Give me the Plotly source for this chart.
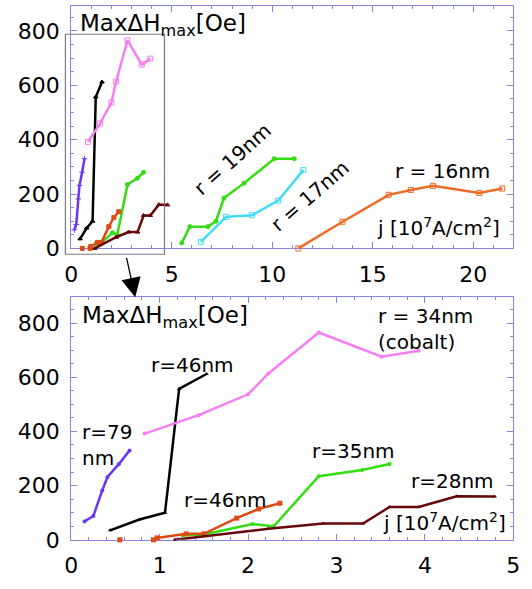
import plotly.graph_objects as go

# ---- data: current density j [1e7 A/cm^2] and Max dH_max [Oe] ----
j79 = [0.15, 0.25, 0.35, 0.41, 0.54, 0.66]
h79 = [68, 88, 182, 232, 280, 330]
j46a = [0.44, 0.77, 1.06, 1.22, 1.53]
h46a = [35, 75, 100, 557, 612]
j34 = [0.83, 1.44, 2.0, 2.23, 2.80, 3.51, 3.93]
h34 = [392, 460, 537, 614, 765, 676, 698]
j35 = [1.26, 1.50, 2.05, 2.29, 2.80, 3.29, 3.60]
h35 = [17, 20, 58, 50, 235, 258, 280]
j46b = [0.55, None, 0.93, 0.97, 1.30, 1.50, 1.87, 2.12, 2.36]
h46b = [0, None, 0, 7, 22, 22, 80, 114, 135]
j28 = [1.17, 2.23, 2.85, 3.30, 3.60, 3.93, 4.36, 4.79]
h28 = [0, 41, 60, 60, 121, 121, 161, 160]
j19 = [5.5, 5.9, 6.8, 7.2, 7.6, 8.6, 10.1, 11.1]
h19 = [20, 80, 80, 100, 185, 240, 330, 330]
j17 = [6.45, 7.7, 9.0, 10.3, 11.55]
h17 = [24, 116, 122, 176, 288]
j16 = [11.3, 13.5, 15.8, 16.9, 18.0, 20.3, 21.45]
h16 = [0, 98, 197, 215, 230, 204, 220]

W, H = 532, 589
FONT = "DejaVu Sans"
AX = "#8585e6"

C79, C46a, C34, C35, C46b, C28 = "#6a35f5", "#000000", "#f57ef2", "#33dd11", "#dd4a14", "#660808"
C19, C17, C16 = "#33dd11", "#3ddcf7", "#ee6a25"

small = [
    (j79, h79, C79, "cross-thin-open"),
    (j46a, h46a, C46a, "triangle-up"),
    (j34, h34, C34, "square-open"),
    (j35, h35, C35, "circle"),
    (j46b, h46b, C46b, "square"),
    (j28, h28, C28, "triangle-up"),
]
large = [
    (j19, h19, C19, "circle"),
    (j17, h17, C17, "square-open"),
    (j16, h16, C16, "square-open"),
]

fig = go.Figure()
for xs, ys, c, sym in small + large:
    fig.add_trace(go.Scatter(x=xs, y=ys, mode="lines+markers", xaxis="x", yaxis="y",
                             line=dict(color=c, width=2.5),
                             marker=dict(color=c, size=4 if sym != "square-open" else 5, symbol=sym,
                                         line=dict(color=c, width=1)),
                             cliponaxis=False, showlegend=False))
for xs, ys, c, sym in small:
    fig.add_trace(go.Scatter(x=xs, y=ys, mode="lines+markers", xaxis="x2", yaxis="y2",
                             line=dict(color=c, width=2.5),
                             marker=dict(color=c, size=5 if sym == "square" else 4,
                                         symbol="square" if sym == "square" else
                                         ("triangle-up" if sym == "triangle-up" else "circle")),
                             cliponaxis=False, showlegend=False))


def px(x):
    return x / W


def py(y):
    return 1 - y / H


def axstyle(rng, dtick, minor, domain, anchor):
    return dict(range=rng, dtick=dtick, domain=domain, anchor=anchor,
                showgrid=False, zeroline=False, showline=True, linecolor=AX, linewidth=1,
                mirror="ticks", ticks="inside", ticklen=6, tickcolor=AX, tickwidth=1,
                minor=dict(dtick=minor, ticks="inside", ticklen=3, tickcolor=AX, showgrid=False),
                tickfont=dict(family=FONT, size=22, color="black"), ticklabelstandoff=6,
                layer="below traces")


xdom = [px(66), px(520)]
fig.update_layout(
    width=W, height=H, margin=dict(l=0, r=0, t=0, b=0),
    paper_bgcolor="white", plot_bgcolor="white",
    xaxis=axstyle([0, 22], 5, 1, xdom, "y"),
    yaxis=axstyle([0, 892], 200, 50, [py(254), py(6)], "x"),
    xaxis2=axstyle([0, 5], 1, 0.2, xdom, "y2"),
    yaxis2=axstyle([0, 895], 200, 50, [py(552), py(304)], "x2"),
)

anns = []


def txt(t, x, y, size=20, xa="center", ya="middle", angle=0, align="center"):
    anns.append(dict(text=t, x=px(x), y=py(y), xref="paper", yref="paper", showarrow=False,
                     xanchor=xa, yanchor=ya, textangle=angle, align=align,
                     font=dict(family=FONT, size=size, color="black")))


title = "MaxΔH<sub>max</sub>[Oe]"
unit = "j [10<sup>7</sup>A/cm<sup>2</sup>]"
txt(title, 73, 26, size=23, xa="left")
txt("r = 19nm", 232, 163, angle=-42)
txt("r = 17nm", 311, 200, angle=-41)
txt("r = 16nm", 447, 175)
txt(unit, 508, 232, xa="right")

txt(title, 75, 324, size=23, xa="left")
txt("r=46nm", 190, 373)
txt("r=79<br>nm", 75, 455, xa="left", align="left")
txt("r=46nm", 224, 511)
txt("r = 34nm<br>(cobalt)", 379, 336, xa="left", align="left")
txt("r=35nm", 356, 461)
txt("r=28nm", 458, 492)
txt(unit, 515, 534, xa="right")

anns.append(dict(x=px(131.7), y=py(304), xref="paper", yref="paper", text="", showarrow=True,
                 ax=-9, ay=-41, arrowhead=2, arrowsize=3, arrowwidth=1.3, arrowcolor="black",
                 standoff=0))
fig.update_layout(annotations=anns)

fig.add_shape(type="rect", xref="paper", yref="paper", x0=px(60), x1=px(161.7), y0=py(260), y1=py(35),
              line=dict(color="#7a7a7a", width=1.2), fillcolor="rgba(0,0,0,0)")

fig.write_html("out.html")
